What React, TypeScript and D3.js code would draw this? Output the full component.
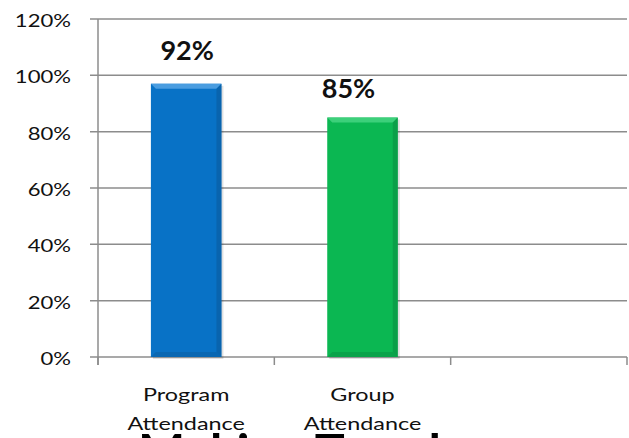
import React from "react";
import * as d3 from "d3";

const categories = ["Program Attendance", "Group Attendance", ""];
const values = [0.97, 0.85, null];
const dataLabels = ["92%", "85%", ""];
const yTicks = [0, 0.2, 0.4, 0.6, 0.8, 1.0, 1.2];
const barColors = ["#0872C6", "#0BB752"];
const darkColors = ["#0A5C9E", "#0A8F42"];
const lightColors = ["#4A9DE0", "#3CD07A"];

const W = 629, H = 438;
const M = { left: 98, right: 2, top: 19, bottom: 81 };
const font = "Lato, 'Open Sans', sans-serif";

function SText({ x, y, sx = 1.38, anchor = "middle", size, weight = "normal", children }: any) {
  return (
    <text transform={`translate(${x},${y}) scale(${sx},1)`} textAnchor={anchor} fontFamily={font} fontSize={size} fontWeight={weight} fill="#111">
      {children}
    </text>
  );
}

export default function App() {
  const x = d3.scaleBand().domain(categories.map((c, i) => String(i))).range([M.left, W - M.right]).paddingInner(0).paddingOuter(0);
  const y = d3.scaleLinear().domain([0, 1.2]).range([H - M.bottom, M.top]);
  const bw = x.bandwidth() * 0.4;
  const boundaries = [...categories.map((_, i) => x(String(i))!), W - M.right];
  return (
    <svg width={W} height={H} style={{ position: "absolute", left: 0, top: 0, background: "#fff" }}>
      {yTicks.map((t) => (
        <g key={t}>
          <line x1={M.left - 8} x2={W - M.right} y1={y(t)} y2={y(t)} stroke="#8c8c8c" strokeWidth={1.5} />
          <SText x={M.left - 27} y={y(t) + 8} anchor="end" size={17} sx={1.3}>
            {Math.round(t * 100)}%
          </SText>
        </g>
      ))}
      <line x1={M.left} x2={M.left} y1={M.top} y2={y(0) + 8} stroke="#8c8c8c" strokeWidth={1.5} />
      {boundaries.map((b, i) => (
        <line key={i} x1={b} x2={b} y1={y(0)} y2={y(0) + 8} stroke="#8c8c8c" strokeWidth={1.5} />
      ))}
      {values.map((v, i) => {
        if (v == null) return null;
        const cx = x(String(i))! + x.bandwidth() / 2;
        const x0 = cx - bw / 2, x1 = cx + bw / 2;
        const y0 = y(v), y1 = y(0);
        const b = 5;
        return (
          <g key={i}>
            <rect x={x0 + 2} y={y0 + 2} width={bw} height={y1 - y0} fill="#000" opacity={0.12} />
            <rect x={x0} y={y0} width={bw} height={y1 - y0} fill={barColors[i]} />
            <polygon points={`${x0},${y0} ${x1},${y0} ${x1 - b},${y0 + b} ${x0 + b},${y0 + b}`} fill={lightColors[i]} />
            <polygon points={`${x1},${y0} ${x1 - b},${y0 + b} ${x1 - b},${y1 - b} ${x1},${y1}`} fill={darkColors[i]} opacity={0.6} />
            <polygon points={`${x0},${y1} ${x0 + b},${y1 - b} ${x1 - b},${y1 - b} ${x1},${y1}`} fill={darkColors[i]} opacity={0.5} />
            <SText x={i === 0 ? cx + 1 : cx - 14} y={i === 0 ? y(v) - 24 : y(v) - 20} size={27} weight="bold" sx={1.0}>
              {dataLabels[i]}
            </SText>
          </g>
        );
      })}
      {categories.map((c, i) => {
        if (!c) return null;
        const cx = x(String(i))! + x.bandwidth() / 2;
        const parts = c.split(" ");
        return (
          <g key={i}>
            {parts.map((p, j) => (
              <SText key={j} x={cx} y={401 + j * 29} size={18} sx={1.3}>{p}</SText>
            ))}
          </g>
        );
      })}
      <text x={138} y={470} fontFamily={font} fontWeight="bold" fontSize={50} fill="#000">Making Trend</text>
    </svg>
  );
}
